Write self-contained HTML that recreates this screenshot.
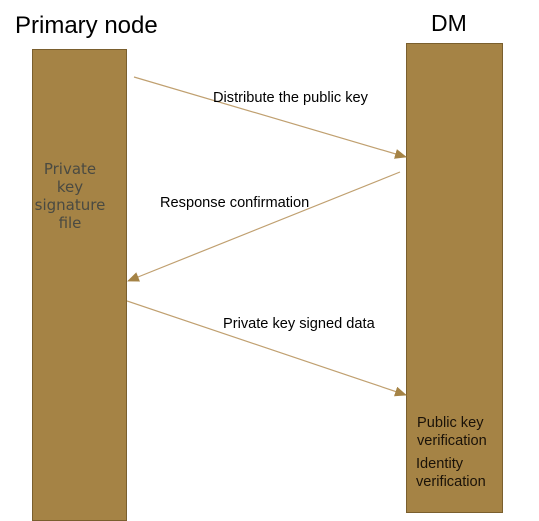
<!DOCTYPE html>
<html><head><style>
body{margin:0;width:539px;height:521px;background:#fff;position:relative;overflow:hidden;font-family:"Liberation Sans",sans-serif;}
.t{position:absolute;white-space:nowrap;color:#000;}
</style></head><body>
<svg width="539" height="521" style="position:absolute;left:0;top:0">
<defs><marker id="a" markerWidth="12" markerHeight="10" refX="11" refY="5" orient="auto" markerUnits="userSpaceOnUse"><path d="M0,0 L12,5 L0,10 z" fill="#a58345"/></marker></defs>
<rect x="32.5" y="49.5" width="94" height="471" fill="#a58345" stroke="#7a5f2e"/>
<rect x="406.5" y="43.5" width="96" height="469" fill="#a58345" stroke="#7a5f2e"/>
<line x1="134" y1="77" x2="406" y2="157" stroke="#c0a070" stroke-width="1.2" marker-end="url(#a)"/>
<line x1="400" y1="172" x2="128" y2="281" stroke="#c0a070" stroke-width="1.2" marker-end="url(#a)"/>
<line x1="127" y1="301" x2="406" y2="395" stroke="#c0a070" stroke-width="1.2" marker-end="url(#a)"/>
</svg>
<div class="t" style="left:15px;top:12px;font-size:24px">Primary node</div>
<div class="t" style="left:431px;top:10px;font-size:23px">DM</div>
<div class="t" style="left:213px;top:90px;font-size:14.6px">Distribute the public key</div>
<div class="t" style="left:160px;top:195px;font-size:14.6px">Response confirmation</div>
<div class="t" style="left:223px;top:316px;font-size:14.6px">Private key signed data</div>
<div class="t" style="left:34px;top:160px;width:72px;text-align:center;white-space:normal;font-size:15px;line-height:18px;color:#4a4a42;font-family:'DejaVu Sans',sans-serif">Private key signature file</div>
<div class="t" style="left:417px;top:414px;font-size:14.6px;line-height:18px;color:#1a1208">Public key<br>verification</div>
<div class="t" style="left:416px;top:455px;font-size:14.6px;line-height:18px;color:#1a1208">Identity<br>verification</div>
</body></html>
